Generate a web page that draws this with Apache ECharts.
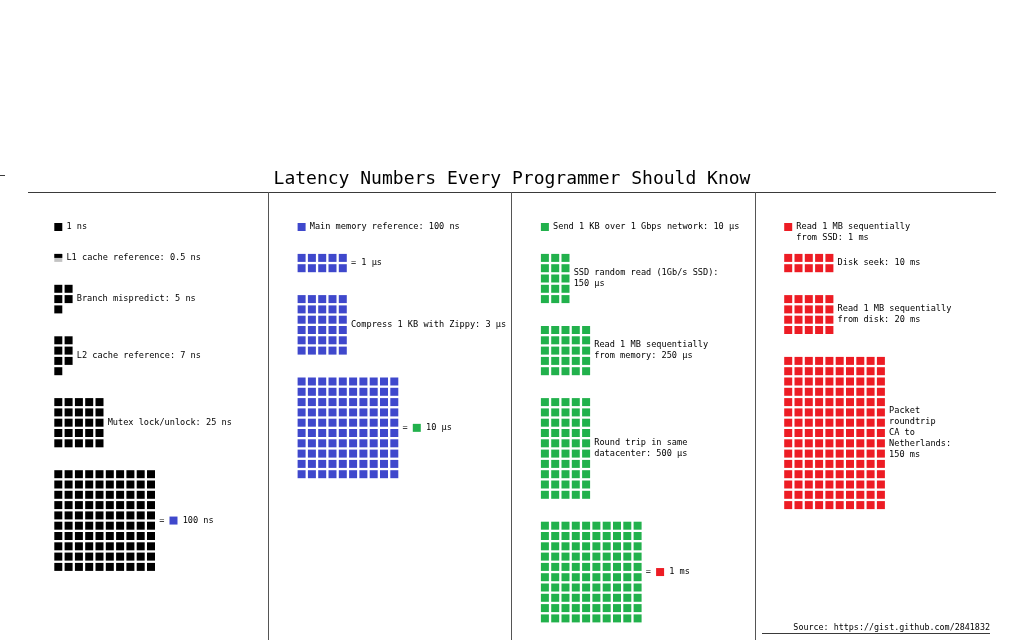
<!DOCTYPE html>
<html><head><meta charset="utf-8">
<script src="https://cdn.jsdelivr.net/npm/echarts@6/dist/echarts.min.js"></script>
<style>html,body{margin:0;padding:0;background:#fff}#c{width:1024px;height:640px}</style>
</head><body><div id="c"></div>
<script>
const chartTitle = 'Latency Numbers Every Programmer Should Know';
const sourceText = 'Source: https://gist.github.com/2841832';
const unitColors = ['#000000', '#3F48CC', '#22B14C', '#ED1C24'];

// each column: counts in that column's unit square (1 ns, 100 ns, 10 µs, 1 ms)
const col1Values = [1, 0.5, 5, 7, 25, 100];
const col1Widths = [1, 1, 2, 2, 5, 10];
const col1Labels = ['1 ns', 'L1 cache reference: 0.5 ns', 'Branch mispredict: 5 ns', 'L2 cache reference: 7 ns', 'Mutex lock/unlock: 25 ns', '= {b|} 100 ns'];

const col2Values = [1, 10, 30, 100];
const col2Widths = [1, 5, 5, 10];
const col2Labels = ['Main memory reference: 100 ns', '= 1 µs', 'Compress 1 KB with Zippy: 3 µs', '= {g|} 10 µs'];

const col3Values = [1, 15, 25, 50, 100];
const col3Widths = [1, 3, 5, 5, 10];
const col3Labels = ['Send 1 KB over 1 Gbps network: 10 µs', 'SSD random read (1Gb/s SSD):\n150 µs', 'Read 1 MB sequentially\nfrom memory: 250 µs', 'Round trip in same\ndatacenter: 500 µs', '= {r|} 1 ms'];

const col4Values = [1, 10, 20, 150];
const col4Widths = [1, 5, 5, 10];
const col4Labels = ['Read 1 MB sequentially\nfrom SSD: 1 ms', 'Disk seek: 10 ms', 'Read 1 MB sequentially\nfrom disk: 20 ms', 'Packet\nroundtrip\nCA to\nNetherlands:\n150 ms'];

const columns = [
  {values: col1Values, widths: col1Widths, labels: col1Labels},
  {values: col2Values, widths: col2Widths, labels: col2Labels},
  {values: col3Values, widths: col3Widths, labels: col3Labels},
  {values: col4Values, widths: col4Widths, labels: col4Labels}
];

// layout
const P = 10.3, S = 8, LH = 11;
const colLeft0 = 54.3, colStep = 243.3, topY = 223;
const NX = 14, NY = 40;
const fontFam = "'DejaVu Sans Mono', monospace";

const grids = [], xAxes = [], yAxes = [], series = [];
const rich = {
  b: {width: 8, height: 8, backgroundColor: unitColors[1]},
  g: {width: 8, height: 8, backgroundColor: unitColors[2]},
  r: {width: 8, height: 8, backgroundColor: unitColors[3]}
};

columns.forEach((col, k) => {
  const left = colLeft0 + k * colStep - (P - S) / 2;
  const top = topY - (P - S) / 2;
  grids.push({left: left, top: top, width: NX * P, height: NY * P, containLabel: false});
  xAxes.push({type: 'value', gridIndex: k, min: 0, max: NX, show: false});
  yAxes.push({type: 'value', gridIndex: k, min: 0, max: NY, inverse: true, show: false});
  const full = [], partial = [], bg = [], labels = [];
  let row = 0;
  col.values.forEach((v, i) => {
    const w = col.widths[i];
    const n = Math.ceil(v);
    const rows = Math.ceil(n / w);
    for (let j = 0; j < n; j++) {
      const c = j % w, r = row + Math.floor(j / w);
      const f = Math.min(1, v - j);
      const pos = [c + 0.5, r + 0.5];
      if (f >= 1) full.push(pos);
      else {
        bg.push(pos);
        partial.push({value: pos, symbolSize: [S, S * f], symbolOffset: [0, -(S - S * f) / 2]});
      }
    }
    const lines = col.labels[i].split('\n').length;
    labels.push({
      value: [w, row + rows / 2],
      name: col.labels[i],
      label: {offset: [0, rows === 1 ? (lines - 1) * LH / 2 : 0]}
    });
    row += rows + 2;
  });
  const color = unitColors[k];
  series.push({type: 'scatter', xAxisIndex: k, yAxisIndex: k, symbol: 'rect', symbolSize: S, z: 2, clip: false,
    itemStyle: {color: '#c3c3c3', opacity: 1}, data: bg, silent: true});
  series.push({type: 'scatter', xAxisIndex: k, yAxisIndex: k, symbol: 'rect', symbolSize: S, z: 3, clip: false,
    itemStyle: {color: color, opacity: 1}, data: full.concat(partial), silent: true});
  series.push({type: 'scatter', xAxisIndex: k, yAxisIndex: k, symbolSize: 0, z: 4, silent: true, clip: false,
    itemStyle: {opacity: 1},
    data: labels,
    label: {show: true, position: 'right', distance: 3, formatter: p => p.name,
      fontFamily: fontFam, fontSize: 8.6, color: '#000', lineHeight: LH, rich: rich}});
});

const lineStyle = {stroke: '#3a3a3a', lineWidth: 1};
const graphic = [
  {type: 'line', shape: {x1: 28, y1: 192.5, x2: 996, y2: 192.5}, style: lineStyle},
  {type: 'line', shape: {x1: 0, y1: 175.5, x2: 5, y2: 175.5}, style: lineStyle},
  {type: 'line', shape: {x1: 762, y1: 633.5, x2: 990, y2: 633.5}, style: lineStyle},
  {type: 'text', right: 34, top: 624, style: {text: sourceText, font: "8.4px 'DejaVu Sans Mono'", fill: '#000'}}
];
for (let k = 1; k < 4; k++) {
  const x = Math.round(colLeft0 + k * colStep - 29.5) + 0.5;
  graphic.push({type: 'line', shape: {x1: x, y1: 192, x2: x, y2: 640}, style: {stroke: '#555', lineWidth: 1}});
}

const chart = echarts.init(document.getElementById('c'), null, {renderer: 'canvas'});
chart.setOption({
  animation: false,
  backgroundColor: '#ffffff',
  title: {text: chartTitle, left: 'center', top: 165,
    textStyle: {fontFamily: fontFam, fontSize: 18, fontWeight: 'normal', color: '#000'}},
  grid: grids, xAxis: xAxes, yAxis: yAxes, series: series, graphic: graphic
});
</script></body></html>
